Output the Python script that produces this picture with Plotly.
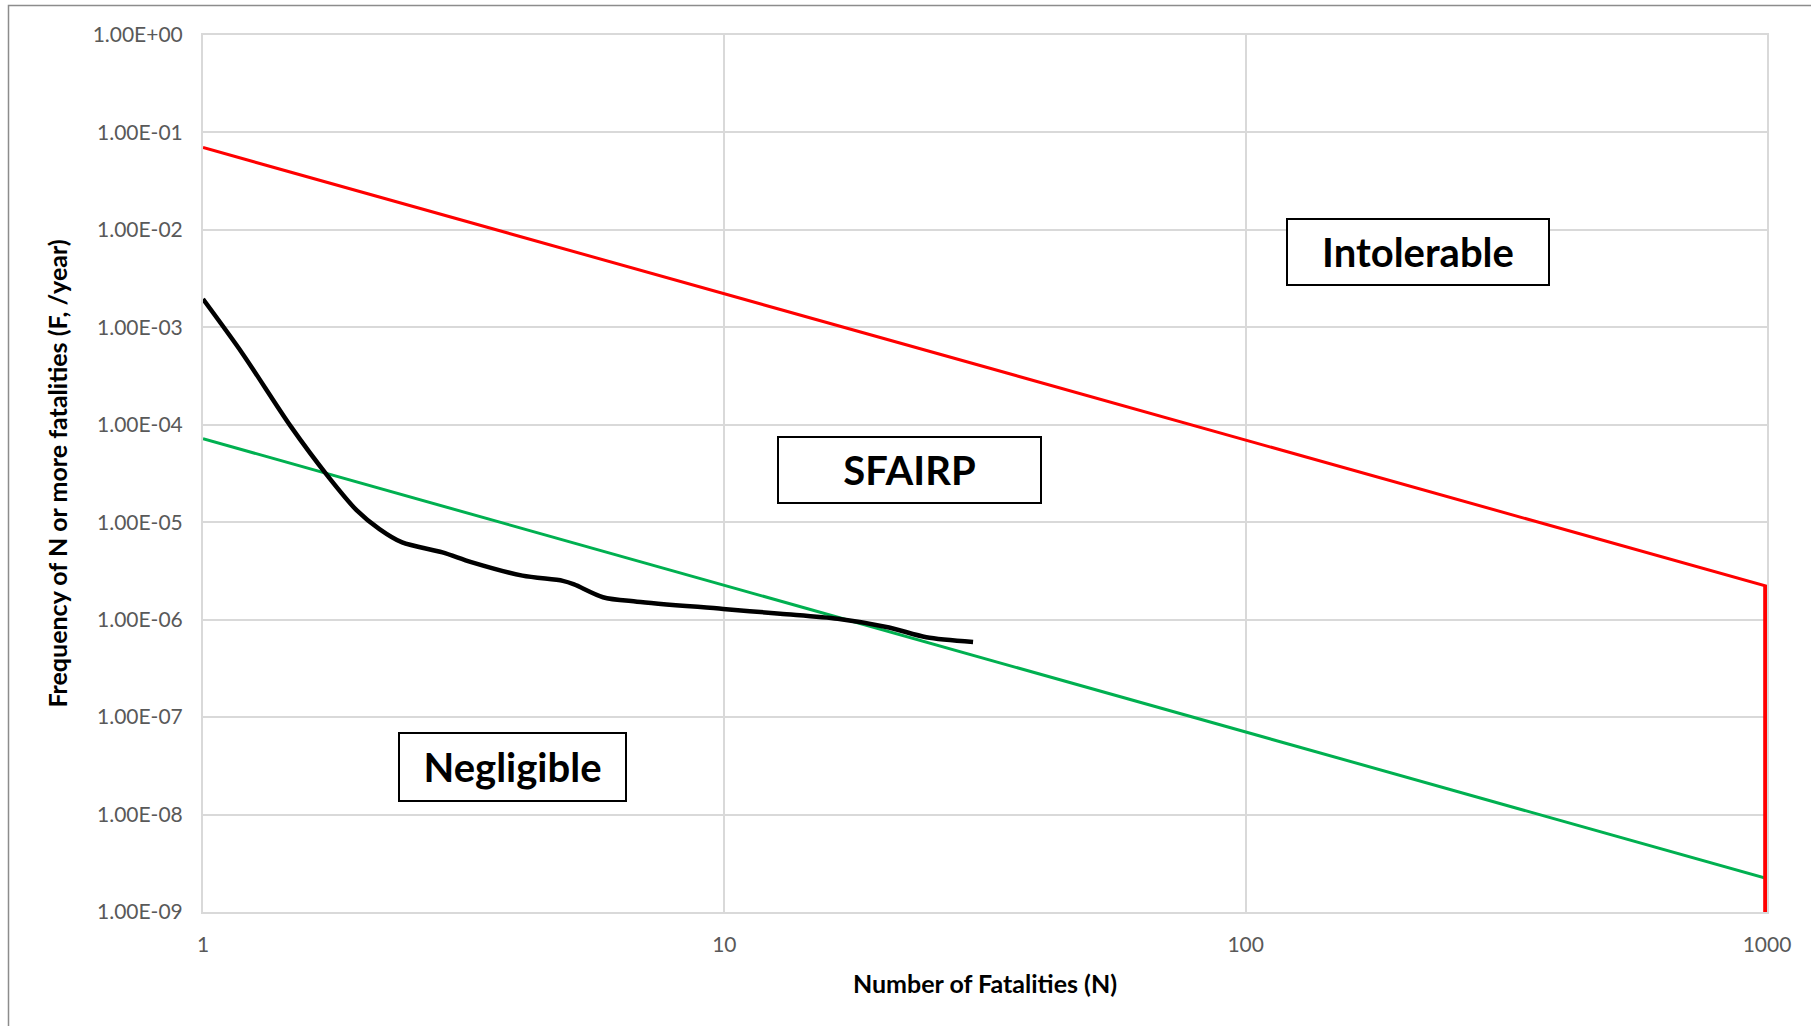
import plotly.graph_objects as go

# ---------------- data ----------------
criteria_N = [1, 1000]
intolerable_F = [7.0e-2, 2.2e-6]
negligible_F = [7.2e-5, 2.2e-9]
cutoff_N = [1000, 1000]
cutoff_F = [2.2e-6, 1.0e-9]

fn_N = [1.0, 1.19, 1.47, 1.74, 1.97, 2.18, 2.41, 2.88, 3.27, 4.1, 4.9, 5.15,
        5.85, 6.8, 9.95, 12.8, 16.5, 20.7, 24.4, 30.0]
fn_F = [1.95e-3, 5.4e-4, 9.8e-5, 2.92e-5, 1.33e-5, 8.5e-6, 6.2e-6, 4.9e-6,
        3.9e-6, 2.83e-6, 2.5e-6, 2.3e-6, 1.7e-6, 1.53e-6, 1.29e-6, 1.15e-6,
        1.02e-6, 8.3e-7, 6.6e-7, 5.9e-7]

x_tickvals = [1, 10, 100, 1000]
x_ticktext = ["1", "10", "100", "1000"]
y_tickvals = [1e0, 1e-1, 1e-2, 1e-3, 1e-4, 1e-5, 1e-6, 1e-7, 1e-8, 1e-9]
y_ticktext = ["1.00E+00", "1.00E-01", "1.00E-02", "1.00E-03", "1.00E-04",
              "1.00E-05", "1.00E-06", "1.00E-07", "1.00E-08", "1.00E-09"]

region_labels = ["Intolerable", "SFAIRP", "Negligible"]

# ---------------- figure ----------------
W, H = 1811, 1026
ML, MR, MT, MB = 203, 44, 35, 114
PW, PH = W - ML - MR, H - MT - MB

def px_to_paper(px, py):
    return (px - ML) / PW, (H - MB - py) / PH

fig = go.Figure()
fig.add_trace(go.Scatter(x=criteria_N, y=intolerable_F, mode="lines",
                         line=dict(color="#FF0000", width=3), hoverinfo="skip"))
fig.add_trace(go.Scatter(x=criteria_N, y=negligible_F, mode="lines",
                         line=dict(color="#00B050", width=3), hoverinfo="skip"))
fig.add_trace(go.Scatter(x=fn_N, y=fn_F, mode="lines",
                         line=dict(color="#000000", width=4.5, shape="spline", smoothing=0.8),
                         hoverinfo="skip"))
# vertical cut-off drawn on an overlaid (hidden) x axis so it is not half-clipped at the edge
fig.add_trace(go.Scatter(x=cutoff_N, y=cutoff_F, mode="lines", xaxis="x2",
                         line=dict(color="#FF0000", width=4.5), hoverinfo="skip"))

# region label boxes (pixel boxes: left, top, right, bottom)
boxes = [(1286, 218, 1550, 286), (777, 436, 1042, 504), (398, 732, 627, 802)]
for label, (l, t, r, b) in zip(region_labels, boxes):
    cx, cy = px_to_paper((l + r) / 2, (t + b) / 2)
    fig.add_annotation(xref="paper", yref="paper", x=cx, y=cy, text="<b>%s</b>" % label,
                       showarrow=False, xanchor="center", yanchor="middle",
                       width=r - l - 6, height=b - t - 6, bgcolor="white",
                       bordercolor="black", borderwidth=2, borderpad=1,
                       font=dict(family="Lato", size=40, color="black"))

# outer chart border (top & left visible)
bx0, by0 = px_to_paper(8.5, 5.5)
fig.add_shape(type="rect", xref="paper", yref="paper", x0=bx0, y0=-0.3, x1=1.2, y1=by0,
              line=dict(color="#8c8c8c", width=1.5), layer="below")

grid = "#d9d9d9"
fig.update_xaxes(type="log", range=[0, 3], tickvals=x_tickvals, ticktext=x_ticktext,
                 showgrid=True, gridcolor=grid, gridwidth=2,
                 showline=True, linecolor=grid, linewidth=2, mirror=True,
                 ticks="outside", ticklen=0, ticklabelstandoff=13, zeroline=False,
                 tickfont=dict(family="Lato", size=21, color="#595959"),
                 title=dict(text="<b>Number of Fatalities (N)</b>", standoff=20,
                            font=dict(family="Lato", size=25, color="black")))
fig.update_yaxes(type="log", range=[-9, 0], tickvals=y_tickvals, ticktext=y_ticktext,
                 showgrid=True, gridcolor=grid, gridwidth=2,
                 showline=True, linecolor=grid, linewidth=2, mirror=True,
                 ticks="outside", ticklen=0, ticklabelstandoff=14, zeroline=False,
                 tickfont=dict(family="Lato", size=21, color="#595959"),
                 title=dict(text="<b>Frequency of N or more fatalities (F, /year)</b>", standoff=18,
                            font=dict(family="Lato", size=25, color="black")))

fig.update_layout(width=W, height=H, autosize=False, showlegend=False,
                  xaxis2=dict(type="log", range=[0, 3.003], overlaying="x", visible=False),
                  margin=dict(l=ML, r=MR, t=MT, b=MB, autoexpand=False),
                  paper_bgcolor="white", plot_bgcolor="white")

fig.write_html("out.html", config={"displayModeBar": False},
               post_script="document.body.style.margin='0';")
